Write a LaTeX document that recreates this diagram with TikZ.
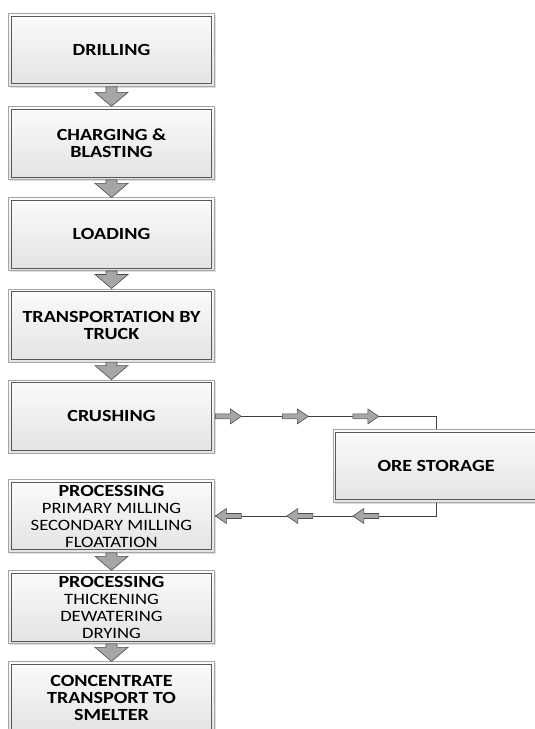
\documentclass[tikz,border=0pt]{standalone}
\usepackage{fontspec}
\setmainfont{Carlito}[FakeStretch=1.18]
\usetikzlibrary{positioning,calc,shadows,decorations.markings}
\newcommand{\stagelist}{\mdseries\fontsize{15.8}{16}\selectfont}

\begin{document}
\begin{tikzpicture}[x=1pt, y=1pt, node distance=17.5pt, every node/.style={font=\bfseries\fontsize{17}{17}\selectfont}, box/.style={rectangle, draw=gray!70, line width=0.6pt, top color=gray!3, bottom color=gray!22, align=center, minimum width=206pt, minimum height=73pt, inner sep=2pt, drop shadow={shadow xshift=1.5pt, shadow yshift=-1.5pt, opacity=0.25}}, inner frame/.style={draw=black!65, line width=0.7pt}, blockdown/.style={draw=black!70, line width=0.6pt, fill=gray!70, to path={let \p1=(\tikztostart.south), \p2=(\tikztotarget.north) in (\x1-5.5pt,\y1) -- (\x1-5.5pt,\y2+14pt) -- (\x1-16.5pt,\y2+14pt) -- (\x1,\y2) -- (\x1+16.5pt,\y2+14pt) -- (\x1+5.5pt,\y2+14pt) -- (\x1+5.5pt,\y1) -- cycle}}, flow/.style={draw=black!75, line width=0.9pt}, smallarrow/.style={draw=black!70, line width=0.6pt, fill=gray!70}, flowmark/.style={postaction={decorate, decoration={markings, mark=at position #1 with {\draw[smallarrow] (-13pt,-2.5pt) -- (2pt,-2.5pt) -- (2pt,-7.5pt) -- (13pt,0pt) -- (2pt,7.5pt) -- (2pt,2.5pt) -- (-13pt,2.5pt) -- cycle;}}}}]
\useasboundingbox (0,0) rectangle (535,-729);
% main column
\node[box] (drill) at (111.5,-50) {DRILLING};
\node[box, below=19.5pt of drill] (charge) {CHARGING \&\\BLASTING};
\node[box, below=of charge] (load) {LOADING};
\node[box, below=of load] (truck) {TRANSPORTATION BY\\TRUCK};
\node[box, below=of truck] (crush) {CRUSHING};
\node[box, below=26pt of crush] (mill) {PROCESSING\\\stagelist PRIMARY MILLING\\\stagelist SECONDARY MILLING\\\stagelist FLOATATION};
\node[box, below=of mill] (thick) {PROCESSING\\\stagelist THICKENING\\\stagelist DEWATERING\\\stagelist DRYING};
\node[box, below=of thick] (conc) {CONCENTRATE\\TRANSPORT TO\\SMELTER};
% stockpile
\node[box, right=118pt of crush, yshift=-49.5pt] (ore) {ORE STORAGE};
\foreach \n in {drill,charge,load,truck,crush,mill,thick,conc,ore}
  \draw[inner frame] ([shift={(3pt,-3pt)}]\n.north west) rectangle ([shift={(-3pt,3pt)}]\n.south east);
\foreach \a/\b in {drill/charge,charge/load,load/truck,truck/crush,mill/thick,thick/conc}
  \draw[blockdown] (\a) to (\b);
\draw[flow, flowmark=13.5pt, flowmark=80.5pt, flowmark=151pt] (crush.east) -- (crush.east -| ore.north) -- (ore.north);
\draw[flow, flowmark=83.5pt, flowmark=149.5pt, flowmark=221pt] (ore.south) -- (ore.south |- mill.east) -- (mill.east);
\end{tikzpicture}
\end{document}
